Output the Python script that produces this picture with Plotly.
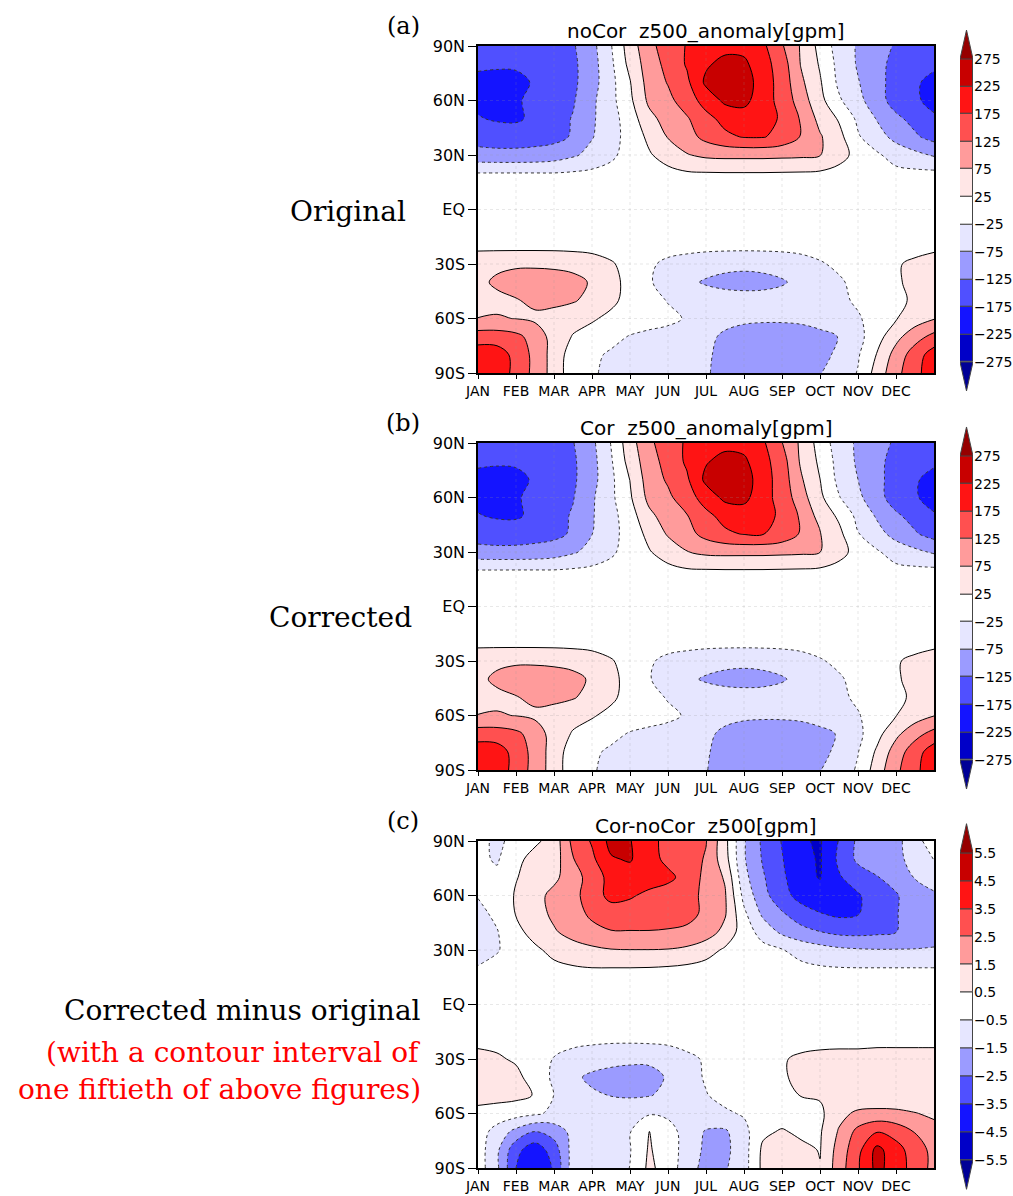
import numpy as np
import plotly.graph_objects as go

W, H = 1013, 1196

# ---------------- data grid ----------------
month_grid = [0.0, 0.5, 1.0, 1.5, 2.0, 2.5, 3.0, 3.5, 4.0, 4.5, 5.0, 5.5, 6.0,
              6.5, 7.0, 7.5, 8.0, 8.5, 9.0, 9.5, 10.0, 10.5, 11.0, 11.5, 12.0]
lat_grid = [90, 80, 70, 60, 50, 40, 30, 20, 10, 0, -10, -20, -30, -40, -50, -60, -70, -80, -90]

# noCor z500 anomaly [gpm], rows = lat_grid, cols = month_grid
z_nocor = [
    [-150, -155, -155, -150, -145, -130, -90, -28, 50, 110, 150, 178, 195, 210, 210, 185, 130, 70, 10, -48, -80, -105, -130, -145, -150],
    [-165, -168, -168, -160, -150, -135, -95, -35, 40, 100, 140, 180, 218, 240, 235, 195, 150, 72, 20, -40, -80, -112, -138, -155, -165],
    [-190, -192, -188, -170, -155, -135, -95, -40, 22, 95, 128, 165, 235, 260, 250, 200, 155, 85, 30, -35, -72, -108, -145, -168, -190],
    [-185, -190, -182, -160, -150, -130, -85, -40, 15, 85, 112, 150, 195, 235, 240, 195, 160, 100, 40, -18, -60, -105, -145, -170, -185],
    [-172, -180, -182, -165, -145, -122, -82, -45, 0, 60, 95, 120, 160, 190, 200, 190, 170, 120, 60, 20, -35, -78, -115, -140, -170],
    [-145, -150, -150, -145, -140, -120, -78, -45, -5, 35, 78, 105, 140, 165, 178, 178, 160, 122, 80, 40, -20, -55, -90, -118, -142],
    [-108, -110, -110, -108, -100, -82, -60, -35, -5, 20, 45, 72, 85, 88, 88, 88, 86, 84, 77, 42, 10, -18, -45, -62, -80],
    [-24, -24, -24, -24, -24, -20, -15, -8, -2, 5, 12, 20, 22, 23, 23, 23, 22, 21, 18, 10, 2, -6, -12, -14, -14],
    [-6, -6, -6, -6, -6, -5, -4, -2, 0, 2, 4, 6, 7, 7, 7, 7, 7, 6, 5, 2, 0, -2, -4, -5, -5],
    [0, 0, 1, 1, 1, 0, 0, 0, 0, 0, 0, 1, 1, 1, 1, 1, 1, 0, 0, 0, 0, 0, 0, 0, 0],
    [5, 5, 5, 5, 5, 4, 3, 2, 0, -2, -4, -5, -6, -6, -6, -6, -6, -5, -3, -1, 0, 1, 2, 3, 4],
    [10, 10, 10, 10, 10, 9, 8, 5, 0, -4, -7, -9, -10, -10, -10, -10, -10, -8, -5, -2, 1, 3, 4, 6, 8],
    [62, 66, 68, 68, 66, 60, 48, 30, 8, -18, -35, -45, -55, -62, -65, -62, -55, -45, -30, -15, 0, 10, 20, 35, 55],
    [65, 82, 95, 98, 96, 90, 70, 40, 10, -20, -45, -65, -80, -88, -90, -88, -80, -62, -45, -32, -10, 5, 20, 35, 60],
    [55, 65, 72, 85, 88, 80, 60, 35, 10, -5, -28, -40, -50, -55, -58, -58, -55, -50, -42, -35, -18, 0, 15, 32, 52],
    [76, 78, 74, 66, 55, 42, 30, 15, 5, 0, -12, -30, -50, -62, -68, -70, -70, -68, -60, -45, -30, -5, 22, 50, 72],
    [150, 150, 138, 105, 55, 22, 8, -10, -28, -40, -45, -55, -65, -82, -90, -92, -92, -90, -85, -74, -40, 5, 60, 105, 140],
    [205, 200, 160, 110, 55, 0, -15, -32, -42, -48, -52, -58, -70, -85, -95, -98, -98, -95, -90, -65, -30, 28, 95, 150, 200],
    [210, 205, 160, 110, 55, -5, -20, -35, -45, -50, -55, -60, -72, -85, -92, -95, -92, -85, -77, -55, -22, 45, 110, 160, 205],
]

# Cor - noCor z500 [gpm]
z_diff = [
    [-0.2, -0.7, -0.2, 0.3, 0.9, 2.8, 3.6, 4.8, 4.55, 3.8, 3.2, 3.0, 2.55, 0.8, -1.4, -2.7, -3.55, -4.4, -4.6, -3.45, -2.3, -2.0, -1.9, -0.7, -0.2],
    [-0.3, -0.6, 0.2, 0.9, 1.0, 2.45, 3.3, 4.4, 4.6, 3.8, 3.3, 3.0, 2.4, 0.9, -1.4, -2.6, -3.45, -4.2, -4.6, -3.3, -2.3, -2.0, -1.8, -1.1, -0.45],
    [-0.2, -0.3, 0.45, 0.9, 1.3, 2.0, 3.0, 3.8, 4.0, 3.9, 3.7, 3.2, 2.2, 1.4, -1.2, -2.4, -3.3, -4.2, -4.55, -3.6, -3.0, -2.55, -2.1, -1.45, -1.2],
    [-0.45, -0.2, 0.6, 1.2, 1.75, 2.2, 3.0, 3.8, 3.6, 3.3, 3.1, 2.8, 2.3, 1.6, -0.8, -2.2, -3.1, -3.9, -4.2, -4.0, -3.6, -3.0, -2.6, -1.9, -1.6],
    [-0.75, -0.3, 0.55, 1.1, 1.7, 2.1, 2.7, 3.0, 3.1, 3.1, 3.0, 2.8, 2.3, 1.6, -0.3, -1.7, -2.4, -3.0, -3.45, -3.7, -3.55, -3.1, -2.55, -2.1, -1.8],
    [-0.85, -0.55, 0.2, 0.9, 1.4, 1.85, 2.2, 2.45, 2.45, 2.45, 2.4, 2.3, 2.0, 1.2, 0.0, -0.9, -1.7, -2.2, -2.48, -2.75, -2.8, -2.7, -2.52, -2.2, -2.0],
    [-0.8, -0.55, -0.2, 0.3, 0.8, 1.1, 1.3, 1.45, 1.48, 1.48, 1.45, 1.3, 0.9, 0.35, 0.0, -0.2, -0.45, -0.8, -1.1, -1.3, -1.4, -1.45, -1.45, -1.45, -1.4],
    [-0.45, -0.3, -0.1, 0.05, 0.25, 0.4, 0.48, 0.48, 0.48, 0.46, 0.4, 0.3, 0.15, 0.05, 0.0, -0.1, -0.2, -0.3, -0.4, -0.46, -0.48, -0.48, -0.48, -0.48, -0.48],
    [-0.2, -0.15, -0.1, 0.0, 0.1, 0.15, 0.2, 0.2, 0.2, 0.2, 0.15, 0.1, 0.05, 0.0, 0.0, -0.05, -0.1, -0.15, -0.2, -0.2, -0.2, -0.2, -0.2, -0.2, -0.2],
    [0.0, 0.0, 0.0, 0.05, 0.05, 0.05, 0.05, 0.05, 0.05, 0.05, 0.0, 0.0, 0.0, 0.0, 0.0, 0.0, -0.05, -0.05, -0.05, -0.05, 0.0, 0.0, 0.0, 0.0, 0.0],
    [0.15, 0.1, 0.05, 0.0, -0.05, -0.1, -0.15, -0.15, -0.15, -0.15, -0.1, -0.05, 0.0, 0.0, 0.05, 0.05, 0.1, 0.1, 0.15, 0.15, 0.15, 0.15, 0.15, 0.15, 0.15],
    [0.35, 0.3, 0.15, -0.05, -0.2, -0.3, -0.35, -0.38, -0.38, -0.35, -0.3, -0.2, -0.1, 0.0, 0.05, 0.1, 0.2, 0.3, 0.35, 0.38, 0.38, 0.38, 0.38, 0.38, 0.38],
    [0.7, 0.6, 0.4, 0.0, -0.55, -0.8, -1.0, -1.2, -1.3, -1.3, -1.1, -0.7, -0.4, -0.1, 0.1, 0.3, 0.45, 0.6, 0.65, 0.65, 0.65, 0.7, 0.7, 0.7, 0.7],
    [0.8, 0.8, 0.7, 0.15, -0.7, -1.3, -1.7, -1.85, -1.9, -1.85, -1.4, -0.9, -0.4, -0.1, 0.1, 0.3, 0.45, 0.6, 0.7, 0.75, 0.75, 0.75, 0.75, 0.75, 0.75],
    [0.75, 0.8, 0.75, 0.45, -0.52, -1.1, -1.35, -1.52, -1.6, -1.55, -1.3, -0.9, -0.55, -0.2, 0.0, 0.15, 0.35, 0.52, 0.6, 0.65, 0.7, 0.7, 0.7, 0.7, 0.7],
    [0.3, 0.1, -0.1, -0.35, -0.7, -0.9, -1.1, -1.2, -0.9, -0.6, -0.65, -0.8, -0.75, -0.65, -0.4, -0.2, 0.0, 0.15, 0.3, 1.2, 1.7, 1.8, 1.75, 1.55, 1.3],
    [0.0, -0.9, -1.8, -2.55, -2.1, -1.2, -1.45, -1.2, -0.55, 0.55, -0.2, -0.8, -1.6, -1.65, -0.8, 0.3, 0.6, 0.3, 0.4, 1.6, 2.8, 3.45, 3.1, 2.45, 1.9],
    [0.0, -1.3, -3.2, -4.1, -3.0, -1.1, -1.3, -1.1, -0.55, 0.6, 0.0, -0.9, -1.7, -1.75, -0.9, 0.7, 0.8, 0.75, 0.45, 1.9, 3.2, 4.8, 3.9, 3.0, 2.2],
    [0.0, -1.3, -3.5, -4.3, -3.4, -1.0, -1.2, -1.0, -0.48, 0.7, 0.1, -1.1, -1.8, -1.6, -0.9, 0.75, 0.8, 0.75, 0.55, 2.0, 3.4, 4.8, 4.0, 3.1, 2.2],
]

# Cor = noCor + (Cor - noCor)
z_cor = (np.array(z_nocor, dtype=float) + np.array(z_diff, dtype=float)).tolist()

month_ticks = [0, 1, 2, 3, 4, 5, 6, 7, 8, 9, 10, 11]
month_labels = ["JAN", "FEB", "MAR", "APR", "MAY", "JUN", "JUL", "AUG", "SEP", "OCT", "NOV", "DEC"]
lat_ticks = [-90, -60, -30, 0, 30, 60, 90]
lat_labels = ["90S", "60S", "30S", "EQ", "30N", "60N", "90N"]

levels_anom = [-275, -225, -175, -125, -75, -25, 25, 75, 125, 175, 225, 275]
labels_anom = ["\u2212275", "\u2212225", "\u2212175", "\u2212125", "\u221275", "\u221225",
               "25", "75", "125", "175", "225", "275"]
levels_diff = [-5.5, -4.5, -3.5, -2.5, -1.5, -0.5, 0.5, 1.5, 2.5, 3.5, 4.5, 5.5]
labels_diff = ["\u22125.5", "\u22124.5", "\u22123.5", "\u22122.5", "\u22121.5", "\u22120.5",
               "0.5", "1.5", "2.5", "3.5", "4.5", "5.5"]

band_colors = ["#000096", "#0000c8", "#1414ff", "#5050ff", "#9b9bff", "#e6e6ff", "#ffffff",
               "#ffe6e6", "#ff9b9b", "#ff5050", "#ff1414", "#c80000", "#960000"]

titles = ["noCor\u00a0\u00a0z500_anomaly[gpm]", "Cor\u00a0\u00a0z500_anomaly[gpm]", "Cor-noCor\u00a0\u00a0z500[gpm]"]
panel_tags = ["(a)", "(b)", "(c)"]

# ---------------- layout geometry (pixels) ----------------
plot_left, plot_right = 478, 934
panel_top = [46, 443, 841]
panel_bot = [373, 770, 1168]
cb_left, cb_right = 960, 973
cb_top = [59, 456, 853]
cb_bot = [362, 760, 1160]

SANS = "DejaVu Sans"
SERIF = "DejaVu Serif"

fig = go.Figure()
colorscale = [[i / 12, c] for i, c in enumerate(band_colors)]

panels = [(z_nocor, levels_anom, labels_anom),
          (z_cor, levels_anom, labels_anom),
          (z_diff, levels_diff, labels_diff)]

shapes = []
annotations = []

for i, (z, levs, labs) in enumerate(panels):
    k = i + 1
    xa, ya = ("x" if k == 1 else f"x{k}"), ("y" if k == 1 else f"y{k}")
    cbk = k + 3
    xc, yc = f"x{cbk}", f"y{cbk}"
    step = levs[1] - levs[0]
    lo, hi = levs[0], levs[-1]

    fig.add_trace(go.Contour(
        x=month_grid, y=lat_grid, z=z, xaxis=xa, yaxis=ya,
        colorscale=colorscale, showscale=False,
        contours=dict(start=lo, end=hi, size=step, coloring="fill", showlines=False),
        line=dict(width=0, smoothing=1.0), hoverinfo="skip"))
    pos = [v for v in levs if v > 0]
    neg = [v for v in levs if v < 0]
    fig.add_trace(go.Contour(
        x=month_grid, y=lat_grid, z=z, xaxis=xa, yaxis=ya, showscale=False,
        contours=dict(start=pos[0], end=pos[-1], size=step, coloring="none"),
        line=dict(color="black", width=1, smoothing=1.0), hoverinfo="skip"))
    fig.add_trace(go.Contour(
        x=month_grid, y=lat_grid, z=z, xaxis=xa, yaxis=ya, showscale=False,
        contours=dict(start=neg[0], end=neg[-1], size=step, coloring="none"),
        line=dict(color="#333333", width=1, dash="dot", smoothing=1.0), hoverinfo="skip"))

    # colour bar
    nb = len(levs) - 1
    fig.add_trace(go.Bar(
        x=[0.5] * nb, y=[step] * nb, base=levs[:-1], width=1,
        marker=dict(color=band_colors[1:-1], line=dict(color="#444444", width=1)),
        xaxis=xc, yaxis=yc, hoverinfo="skip", showlegend=False))
    fig.add_trace(go.Scatter(
        x=[0, 1, 0.5, 0], y=[hi, hi, hi + step * 1.05, hi], mode="lines", fill="toself",
        fillcolor=band_colors[-1], line=dict(color="#444444", width=1),
        xaxis=xc, yaxis=yc, hoverinfo="skip", showlegend=False))
    fig.add_trace(go.Scatter(
        x=[0, 1, 0.5, 0], y=[lo, lo, lo - step * 1.05, lo], mode="lines", fill="toself",
        fillcolor=band_colors[0], line=dict(color="#444444", width=1),
        xaxis=xc, yaxis=yc, hoverinfo="skip", showlegend=False))

    # axes
    xdom = [plot_left / W, plot_right / W]
    ydom = [1 - panel_bot[i] / H, 1 - panel_top[i] / H]
    axis_common = dict(showline=True, linecolor="black", linewidth=1.5, mirror=True,
                       ticks="outside", tickwidth=1.2, tickcolor="black",
                       showgrid=False, zeroline=False, automargin=False)
    fig.layout[("xaxis" if k == 1 else f"xaxis{k}")] = dict(
        domain=xdom, range=[0, 12], anchor=ya, tickvals=month_ticks, ticktext=month_labels,
        ticklen=4, tickfont=dict(family=SANS, size=14, color="black"), **axis_common)
    fig.layout[("yaxis" if k == 1 else f"yaxis{k}")] = dict(
        domain=ydom, range=[-90, 90], anchor=xa, tickvals=lat_ticks, ticktext=lat_labels,
        ticklen=8, tickfont=dict(family=SANS, size=16, color="black"), **axis_common)

    bin_px = (cb_bot[i] - cb_top[i]) / nb
    ext_px = bin_px * 1.1
    cdom = [1 - (cb_bot[i] + ext_px) / H, 1 - (cb_top[i] - ext_px) / H]
    fig.layout[f"xaxis{cbk}"] = dict(domain=[cb_left / W, cb_right / W], range=[0, 1],
                                     anchor=yc, visible=False, fixedrange=True, automargin=False)
    fig.layout[f"yaxis{cbk}"] = dict(domain=cdom, range=[lo - step * 1.1, hi + step * 1.1],
                                     anchor=xc, side="right", showgrid=False, zeroline=False,
                                     showline=False, ticks="", ticklen=0, tickvals=levs, ticktext=labs,
                                     tickfont=dict(family=SANS, size=14, color="black"),
                                     fixedrange=True, automargin=False)

    # faint dotted grid above fills
    for m in month_ticks[1:]:
        shapes.append(dict(type="line", xref=xa, yref=ya, x0=m, x1=m, y0=-90, y1=90,
                           line=dict(color="rgba(150,150,150,0.22)", width=1, dash="dot"),
                           layer="above"))
    for la in lat_ticks[1:-1]:
        shapes.append(dict(type="line", xref=xa, yref=ya, x0=0, x1=12, y0=la, y1=la,
                           line=dict(color="rgba(150,150,150,0.22)", width=1, dash="dot"),
                           layer="above"))

    annotations.append(dict(xref="paper", yref="paper", x=706 / W, y=1 - (panel_top[i] - 15) / H,
                            text=titles[i], showarrow=False, xanchor="center", yanchor="middle",
                            font=dict(family=SANS, size=20, color="black")))
    annotations.append(dict(xref="paper", yref="paper", x=403 / W, y=1 - (panel_top[i] - 20) / H,
                            text=panel_tags[i], showarrow=False, xanchor="center", yanchor="middle",
                            font=dict(family=SERIF, size=24, color="black")))

side_texts = [("Original", 408, 211, "black"),
              ("Corrected", 414, 617, "black"),
              ("Corrected minus original", 423, 1010, "black"),
              ("(with a contour interval of", 423, 1052, "#ff0000"),
              ("one fiftieth of above figures)", 423, 1089, "#ff0000")]
for txt, xr, yc_, col in side_texts:
    annotations.append(dict(xref="paper", yref="paper", x=xr / W, y=1 - yc_ / H, text=txt,
                            showarrow=False, xanchor="right", yanchor="middle",
                            font=dict(family=SERIF, size=28, color=col)))

fig.update_layout(width=W, height=H, margin=dict(l=0, r=0, t=0, b=0),
                  paper_bgcolor="white", plot_bgcolor="white", showlegend=False,
                  shapes=shapes, annotations=annotations, bargap=0)

fig.write_html("out.html")
